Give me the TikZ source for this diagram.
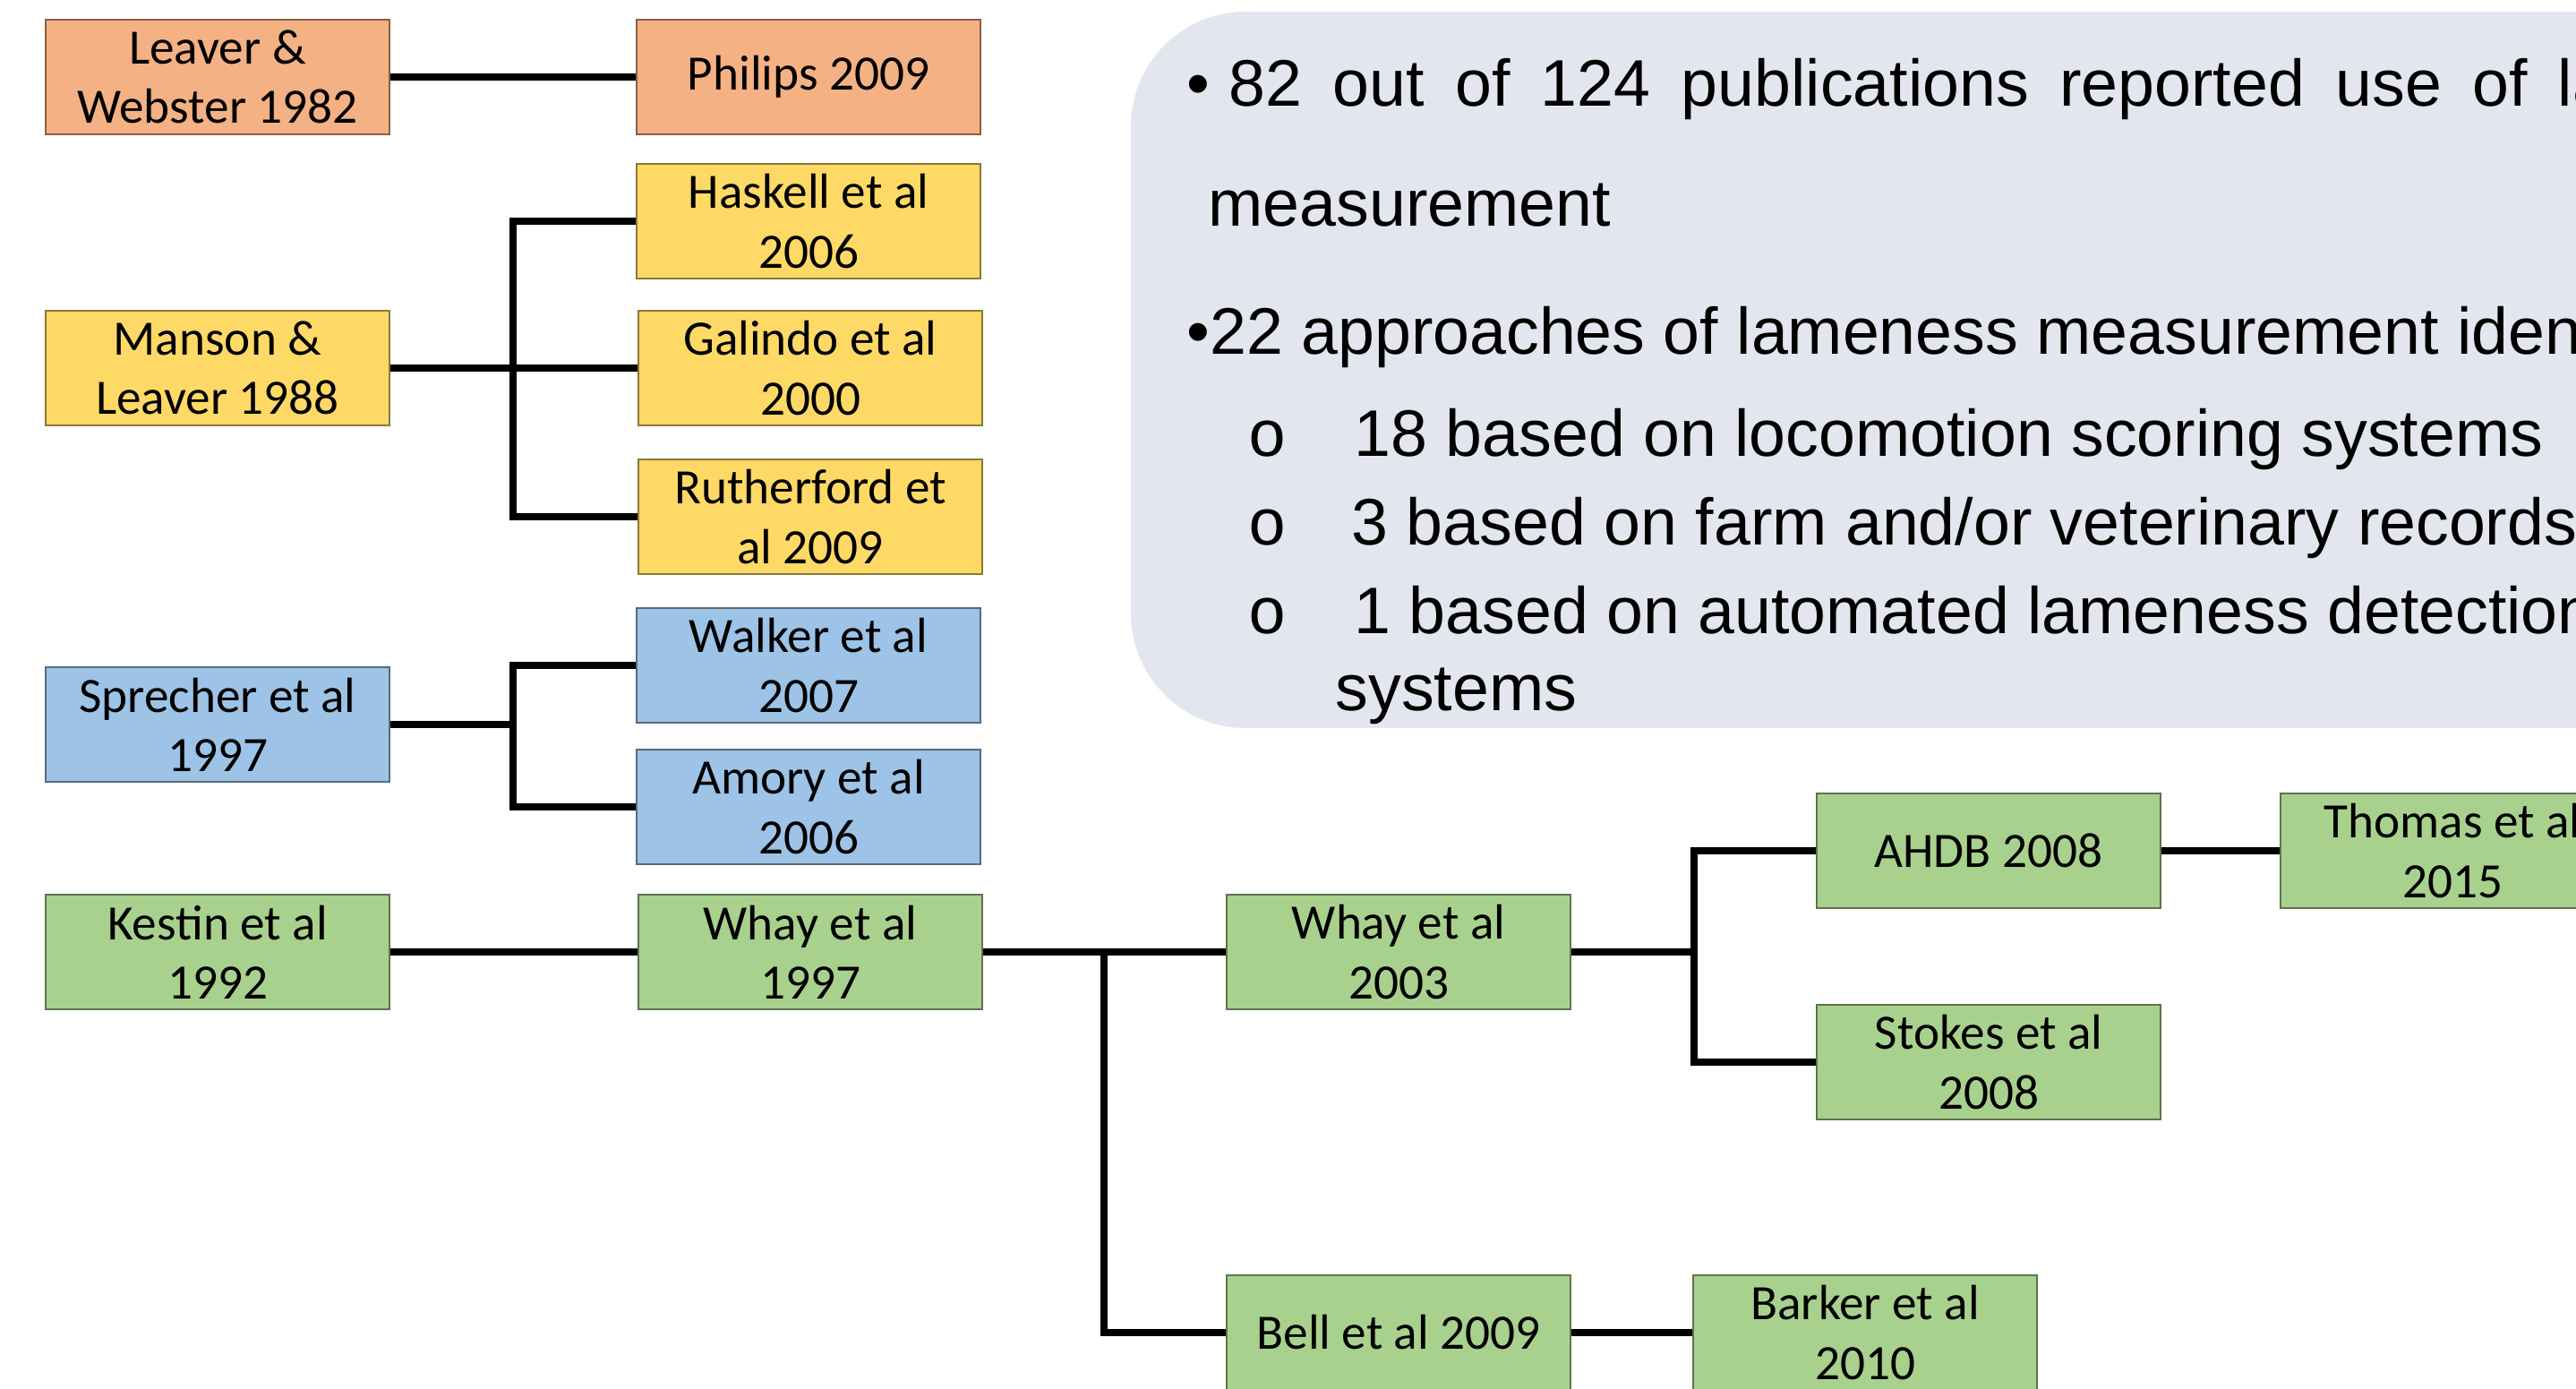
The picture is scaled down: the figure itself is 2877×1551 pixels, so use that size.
\documentclass[tikz,border=0pt]{standalone}
\usepackage{fontspec}
\setmainfont{Carlito}
\newfontfamily\arialfont{Liberation Sans}
\newfontfamily\courfont{Liberation Mono}

\definecolor{boxOrange}{HTML}{F4B183}
\definecolor{boxYellow}{HTML}{FFD966}
\definecolor{boxBlue}{HTML}{9DC3E6}
\definecolor{boxGreen}{HTML}{A9D18E}
\definecolor{panelGrey}{HTML}{E3E6EE}

\tikzset{
  ref/.style={draw=#1!55!black, fill=#1, line width=0.6pt,
    minimum width=3.84cm, minimum height=1.28cm, inner sep=0pt,
    align=center, font=\fontsize{15.7}{18.8}\selectfont},
  link/.style={line width=2.3pt},
  paneltext/.style={anchor=base west, inner sep=0pt,
    font=\arialfont\fontsize{20.9}{25}\selectfont},
  subdot/.style={anchor=base west, inner sep=0pt,
    font=\courfont\fontsize{20.9}{25}\selectfont},
}

\begin{document}
\begin{tikzpicture}[x=0.01cm,y=-0.01cm]
	\useasboundingbox (0,0) rectangle (2877,1551);
	\clip (0,0) rectangle (2877,1551);
	%Summary panel
	\fill[panelGrey, rounded corners=1.28cm] (1263,13) rectangle (3050,813);
	\node[paneltext] (dotA) at (1325,118) {•};
	\node[paneltext] (lineA) at (1372,118) {\makebox[17.98cm][s]{82 out of 124 publications reported use of lameness}};
	\node[paneltext] (lineB) at (1349,252) {measurement};
	\node[paneltext] (lineC) at (1325,395) {•22 approaches of lameness measurement identified};
	\foreach \y/\name in {509/subA,608/subB,707/subC} \node[subdot] (\name) at (1393,\y) {o};
	\node[paneltext] (locom) at (1512,509) {18 based on locomotion scoring systems};
	\node[paneltext] (records) at (1509,608) {3 based on farm and/or veterinary records};
	\node[paneltext] (auto) at (1512,707) {1 based on automated lameness detection};
	\node[paneltext] (autoB) at (1491,793) {systems};
	%Publication boxes
	\node[ref=boxOrange] (leaver) at (243,86) {Leaver \&\\Webster 1982};
	\node[ref=boxOrange] (philips) at (903,86) {Philips 2009};
	\node[ref=boxYellow] (haskell) at (903,247) {Haskell et al\\2006};
	\node[ref=boxYellow] (manson) at (243,411) {Manson \&\\Leaver 1988};
	\node[ref=boxYellow] (galindo) at (905,411) {Galindo et al\\2000};
	\node[ref=boxYellow] (ruther) at (905,577) {Rutherford et\\al 2009};
	\node[ref=boxBlue] (walker) at (903,743) {Walker et al\\2007};
	\node[ref=boxBlue] (sprech) at (243,809) {Sprecher et al\\1997};
	\node[ref=boxBlue] (amory) at (903,901) {Amory et al\\2006};
	\node[ref=boxGreen] (kestin) at (243,1063) {Kestin et al\\1992};
	\node[ref=boxGreen] (whayA) at (905,1063) {Whay et al\\1997};
	\node[ref=boxGreen] (whayB) at (1562,1063) {Whay et al\\2003};
	\node[ref=boxGreen] (ahdb) at (2221,950) {AHDB 2008};
	\node[ref=boxGreen] (thomas) at (2739,950) {Thomas et al\\2015};
	\node[ref=boxGreen] (stokes) at (2221,1186) {Stokes et al\\2008};
	\node[ref=boxGreen] (bell) at (1562,1488) {Bell et al 2009};
	\node[ref=boxGreen] (barker) at (2083,1488) {Barker et al\\2010};
	%Branch points
	\coordinate (busA) at (573,411);
	\coordinate (busB) at (573,809);
	\coordinate (busC) at (1233,1063);
	\coordinate (busD) at (1892,1063);
	%Connectors
	\draw[link] (leaver) -- (philips);
	\draw[link] (manson) -- (galindo);
	\draw[link] (haskell.west) -| (busA) |- (ruther.west);
	\draw[link] (sprech) -- (busB);
	\draw[link] (walker.west) -| (busB) |- (amory.west);
	\draw[link] (kestin) -- (whayA);
	\draw[link] (whayA) -- (whayB);
	\draw[link] (busC) |- (bell.west);
	\draw[link] (whayB) -- (busD);
	\draw[link] (ahdb.west) -| (busD) |- (stokes.west);
	\draw[link] (ahdb) -- (thomas);
	\draw[link] (bell) -- (barker);
\end{tikzpicture}
\end{document}
